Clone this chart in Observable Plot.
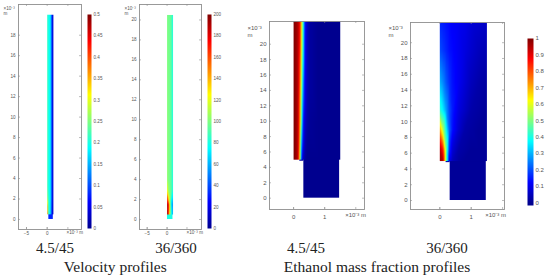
<!DOCTYPE html>
<html>
<head>
<meta charset="utf-8">
<script src="https://cdn.jsdelivr.net/npm/d3@7"></script>
<script src="https://cdn.jsdelivr.net/npm/@observablehq/plot@0.6"></script>
<style>
html,body{margin:0;padding:0;background:#fff;width:550px;height:280px;overflow:hidden}
#fig{position:relative;width:550px;height:280px}
.cap{position:absolute;transform:translate(-50%,-50%);font-family:"Liberation Serif",serif;color:#222;white-space:nowrap;line-height:1}
svg image,svg g[aria-label="rect"]{filter:blur(.4px)}
</style>
</head>
<body>
<div id="fig"></div>
<script>
const jetStops = ["#00008f","#0000ff","#007fff","#00ffff","#7fff7f","#ffff00","#ff7f00","#ff0000","#800000"];

// Velocity, case 4.5/45 (m/s)
const vel1Cols = [0, 0.25, 0.7, 0.95, 1.15, 1.5];
const vel1Rows = [0.5, 1, 2, 3.5, 20];
const vel1Vals = [
  [0.45, 0.22, 0.18, 0.13, 0.06, 0.02],
  [0.40, 0.22, 0.18, 0.14, 0.06, 0.02],
  [0.30, 0.21, 0.185, 0.15, 0.07, 0.02],
  [0.24, 0.20, 0.185, 0.15, 0.07, 0.02],
  [0.22, 0.20, 0.185, 0.15, 0.07, 0.02]
];
const vel1Base = 0.08;

// Velocity, case 36/360
const vel2Cols = [0, 0.3, 0.8, 1.2, 1.5];
const vel2Rows = [0.5, 1.5, 2.2, 3, 4, 20.5];
const vel2Vals = [
  [190, 170, 100, 70, 60],
  [195, 180, 100, 60, 55],
  [170, 130, 100, 75, 70],
  [125, 105, 97, 88, 80],
  [105, 100, 96, 88, 80],
  [100, 98, 96, 88, 80]
];
const vel2Base = 80;

// Ethanol mass fraction, case 4.5/45
const eth1Cols = [0, 0.1, 0.15, 0.2, 0.25, 0.28, 0.31, 0.36, 0.42, 0.5, 0.8, 1.5];
const eth1Rows = [5, 10, 15, 20, 23];
const eth1Vals = [
  [1, 0.97, 0.90, 0.62, 0.20, 0.10, 0.05, 0.02, 0, 0, 0, 0],
  [1, 0.97, 0.92, 0.75, 0.45, 0.28, 0.15, 0.07, 0.03, 0.01, 0, 0],
  [1, 0.97, 0.93, 0.80, 0.55, 0.40, 0.27, 0.12, 0.05, 0.02, 0, 0],
  [1, 0.97, 0.93, 0.87, 0.62, 0.50, 0.38, 0.15, 0.06, 0.02, 0, 0],
  [1, 0.97, 0.94, 0.88, 0.65, 0.52, 0.40, 0.17, 0.07, 0.02, 0, 0]
];
const eth1Base = 0;

// Ethanol mass fraction, case 36/360
const eth2Cols = [0, 0.1, 0.2, 0.3, 0.4, 0.6, 0.8, 1, 1.25, 1.5];
const eth2Rows = [5, 6.5, 9, 11.5, 15, 19, 22.56];
const eth2Vals = [
  [0.97, 0.95, 0.50, 0.10, 0.05, 0.02, 0.01, 0.01, 0.01, 0.01],
  [0.95, 0.85, 0.50, 0.17, 0.08, 0.03, 0.02, 0.01, 0.01, 0.01],
  [0.72, 0.55, 0.38, 0.22, 0.14, 0.07, 0.03, 0.02, 0.01, 0.01],
  [0.42, 0.36, 0.28, 0.20, 0.15, 0.09, 0.06, 0.03, 0.02, 0.01],
  [0.30, 0.26, 0.21, 0.17, 0.14, 0.11, 0.08, 0.05, 0.03, 0.02],
  [0.20, 0.18, 0.16, 0.14, 0.13, 0.11, 0.09, 0.07, 0.05, 0.04],
  [0.16, 0.15, 0.14, 0.13, 0.12, 0.11, 0.10, 0.08, 0.07, 0.06]
];
const eth2Base = 0.01;

const velYTicks1 = [0, 2, 4, 6, 8, 10, 12, 14, 16, 18];
const velYTicks2 = [0, 2, 4, 6, 8, 10, 12, 14, 16, 18, 20];
const velXTicks = [-5, 0, 5];
const velXLabels = [-5, 0];
const ethXTicks = [0, 1, 2];
const ethXLabels = [0, 1];
const vel1Bar = [0, 0.05, 0.1, 0.15, 0.2, 0.25, 0.3, 0.35, 0.4, 0.45, 0.5];
const vel2Bar = [0, 20, 40, 60, 80, 100, 120, 140, 160, 180, 200];
const ethBar = [0, 0.1, 0.2, 0.3, 0.4, 0.5, 0.6, 0.7, 0.8, 0.9, 1];

const captions = [
  {text: "4.5/45", x: 55, y: 247.5, size: 15},
  {text: "36/360", x: 176, y: 247.5, size: 15},
  {text: "4.5/45", x: 306, y: 247.5, size: 15},
  {text: "36/360", x: 447, y: 247.5, size: 15},
  {text: "Velocity profiles", x: 115.3, y: 267, size: 15.5},
  {text: "Ethanol mass fraction profiles", x: 377, y: 267, size: 15.5}
];

const fig = document.getElementById("fig");
const jet = d3.piecewise(d3.interpolateRgb, jetStops);
const colorOf = max => ({type: "linear", domain: [0, max], interpolate: jet, clamp: true});
const place = (svg, left, top, w) => {
  const d = document.createElement("div");
  d.style.cssText = `position:absolute;left:${left}px;top:${top}px;width:${w}px`;
  d.appendChild(svg);
  fig.appendChild(d);
};
const flatten = (cols, rows, vals) =>
  rows.flatMap((y, i) => cols.map((x, j) => ({x, y, v: vals[i][j]})));

function panel(o) {
  const ml = 30, mr = 30, mt = 8, mb = 16;
  const w = o.fw + ml + mr, h = o.fh + mt + mb;
  const ink = "#555", line = "#8f8f8f";
  const last = o.cols[o.cols.length - 1];
  const svg = Plot.plot({
    width: w, height: h,
    marginLeft: ml, marginRight: mr, marginTop: mt, marginBottom: mb,
    style: {background: "transparent", overflow: "visible", fontFamily: "Liberation Sans"},
    x: {domain: o.xd, label: null},
    y: {domain: o.yd, label: null},
    color: colorOf(o.max),
    marks: [
      Plot.rect([{v: o.base}], {x1: o.stepX, x2: last - 0.02, y1: 0, y2: o.rows[0] + 0.4, fill: "v"}),
      ...(o.notch ? [Plot.rect([{v: o.base + 0.02}], {x1: 0.2, x2: o.stepX, y1: 4.8, y2: 5.3, fill: "v"})] : []),
      Plot.raster(flatten(o.cols, o.rows, o.vals), {
        x: "x", y: "y", fill: "v", interpolate: "barycentric", pixelSize: 0.5,
        x1: 0, x2: last, y1: o.rows[0], y2: o.rows[o.rows.length - 1]
      }),
      Plot.frame({stroke: line, strokeWidth: 0.9}),
      Plot.axisY(o.yt, {anchor: "left", tickSize: -2, tickPadding: 5, fontSize: o.fs, stroke: line, fill: ink, strokeWidth: 0.6, label: null}),
      Plot.tickY(o.yt, {y: d => d, insetLeft: o.fw - 2, stroke: line, strokeWidth: 0.6}),
      Plot.axisX(o.xl, {anchor: "bottom", tickSize: -2, tickPadding: o.fs > 5 ? 7 : 4.5, fontSize: o.fs, stroke: line, fill: ink, strokeWidth: 0.6, label: null}),
      Plot.tickX(o.xt, {x: d => d, insetBottom: o.fh - 2, stroke: line, strokeWidth: 0.6}),
      Plot.tickX(o.xt, {x: d => d, insetTop: o.fh - 2, stroke: line, strokeWidth: 0.6}),
      Plot.text(["×10⁻³"], {frameAnchor: "top-left", textAnchor: "start", dx: o.ux, dy: o.uy, fontSize: o.fs, fill: ink}),
      Plot.text(["m"], {frameAnchor: "top-left", textAnchor: "start", dx: o.ux, dy: o.uy + o.fs + 1, fontSize: o.fs, fill: ink}),
      Plot.text(["×10⁻³ m"], {frameAnchor: "bottom-right", textAnchor: "end", dx: 1.5, dy: o.fs > 5 ? 7 : 4.5, fontSize: o.fs, fill: ink})
    ]
  });
  place(svg, o.fx - ml, o.fy - mt, w);
}

function colorbar(o) {
  const ml = 0, mr = 24, mt = 6, mb = 6;
  const w = o.bw + ml + mr, h = o.bh + mt + mb;
  const svg = Plot.plot({
    width: w, height: h,
    marginLeft: ml, marginRight: mr, marginTop: mt, marginBottom: mb,
    style: {background: "transparent", overflow: "visible", fontFamily: "Liberation Sans"},
    x: {domain: [0, 1], axis: null},
    y: {domain: [o.low, o.max], label: null},
    color: colorOf(o.max),
    marks: [
      Plot.raster({fill: (x, y) => y, x1: 0, x2: 1, y1: o.low, y2: o.max, pixelSize: 1}),
      Plot.axisY(o.ticks, {anchor: "right", tickSize: 0, tickPadding: 2, fontSize: o.fs, fill: "#555", label: null,
        tickFormat: d => String(d)})
    ]
  });
  place(svg, o.bx - ml, o.by - mt, w);
}

panel({fx: 18, fy: 4, fw: 63, fh: 225, xd: [-6.93, 8.29], yd: [-0.98, 21], xt: velXTicks, xl: velXLabels, yt: velYTicks1,
  cols: vel1Cols, rows: vel1Rows, vals: vel1Vals, base: vel1Base, stepX: 0.4, max: 0.5, fs: 4.6, ux: -15, uy: 2});
panel({fx: 139, fy: 4, fw: 62, fh: 225, xd: [-6.93, 8.65], yd: [-1, 21.55], xt: velXTicks, xl: velXLabels, yt: velYTicks2,
  cols: vel2Cols, rows: vel2Rows, vals: vel2Vals, base: vel2Base, stepX: 0.1, max: 200, fs: 4.6, ux: -15, uy: 2});
panel({fx: 269, fy: 21, fw: 95, fh: 188, xd: [-0.774, 2.28], yd: [-1.47, 22.95], xt: ethXTicks, xl: ethXLabels, yt: velYTicks2,
  cols: eth1Cols, rows: eth1Rows, vals: eth1Vals, base: eth1Base, stepX: 0.33, notch: true, max: 1, fs: 6, ux: -22, uy: 4});
panel({fx: 410, fy: 22, fw: 94, fh: 187, xd: [-0.933, 2.06], yd: [-1.14, 22.56], xt: ethXTicks, xl: ethXLabels, yt: velYTicks2,
  cols: eth2Cols, rows: eth2Rows, vals: eth2Vals, base: eth2Base, stepX: 0.33, notch: true, max: 1, fs: 6, ux: -22, uy: 3});

colorbar({bx: 87, by: 14, bw: 4, bh: 214, low: 0, max: 0.5, ticks: vel1Bar, fs: 4.6});
colorbar({bx: 207, by: 14, bw: 4, bh: 214, low: 0, max: 200, ticks: vel2Bar, fs: 4.6});
colorbar({bx: 527, by: 38, bw: 6, bh: 167, low: -0.016, max: 1, ticks: ethBar, fs: 6});

for (const c of captions) {
  const d = document.createElement("div");
  d.className = "cap";
  d.textContent = c.text;
  d.style.left = c.x + "px";
  d.style.top = c.y + "px";
  d.style.fontSize = c.size + "px";
  fig.appendChild(d);
}
</script>
</body>
</html>
